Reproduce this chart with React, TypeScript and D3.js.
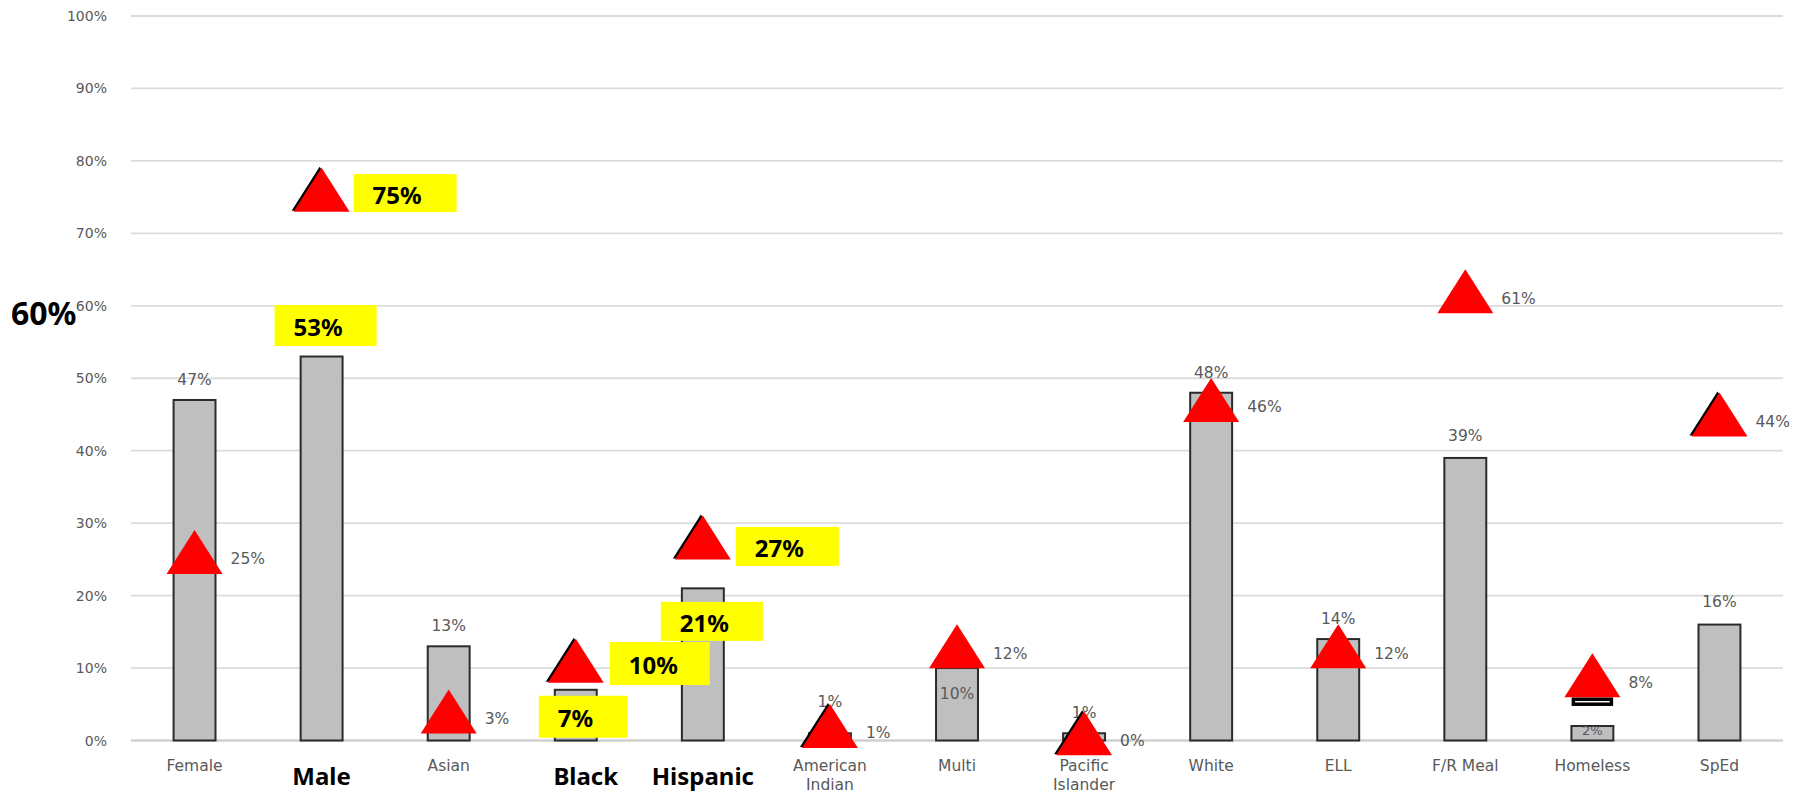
import React from "react";
import * as d3 from "d3";

// chart values
const categories = [
  "Female", "Male", "Asian", "Black", "Hispanic", "American Indian", "Multi",
  "Pacific Islander", "White", "ELL", "F/R Meal", "Homeless", "SpEd",
];
const barValues = [47, 53, 13, 7, 21, 1, 10, 1, 48, 14, 39, 2, 16];
const markerValues = [25, 75, 3, 10, 27, 1, 12, 0, 46, 12, 61, 8, 44];
const yTicks = [0, 10, 20, 30, 40, 50, 60, 70, 80, 90, 100];
const boldCategories = ["Male", "Black", "Hispanic"];
const wrappedCategories = ["American Indian", "Pacific Islander"];
const calloutText = "60%";

// placement tweaks for labels that were moved by hand in the original
const barLabelDy: Record<string, number> = {
  "American Indian": -31, Multi: 26, Homeless: 4, "F/R Meal": -22, SpEd: -23,
};
const barBoxes: Record<string, { dx: number; dy: number; w: number; h: number }> = {
  Male: { dx: -47, dy: -31, w: 102, h: 41 },
  Black: { dx: -37, dy: 27, w: 89, h: 42 },
  Hispanic: { dx: -42, dy: 33, w: 102, h: 39 },
};
const markerBoxes: Record<string, { dx: number; dy: number; w: number; h: number }> = {
  Male: { dx: 32, dy: -4, w: 103, h: 38 },
  Black: { dx: 34, dy: -4.5, w: 100, h: 43 },
  Hispanic: { dx: 33, dy: 1.5, w: 103, h: 39 },
};
const shadowed = ["Male", "Black", "Hispanic", "American Indian", "Pacific Islander", "SpEd"];

const width = 1810;
const height = 793;
const gridLeft = 131;
const gridRight = 1783;

const x = d3.scaleBand<string>()
  .domain(categories)
  .range([gridLeft, gridRight])
  .paddingInner(0.67)
  .paddingOuter(0.335);

const y = d3.scaleLinear().domain([0, 100]).range([740.5, 16]);

const triW = 56;
const triH = 44;
const triangle = `M0,${-(2 * triH) / 3} L${triW / 2},${triH / 3} L${-triW / 2},${triH / 3} Z`;

const grayText = "#595959";
const labelFont = "'DejaVu Sans', sans-serif";
const boldFont = "'Noto Sans', sans-serif";

export default function App() {
  const bw = x.bandwidth();
  const cx = (c: string) => (x(c) as number) + bw / 2;

  return (
    <svg
      width={width}
      height={height}
      style={{ position: "absolute", left: 0, top: 0, background: "#fff" }}
    >
      {/* gridlines and y ticks */}
      {yTicks.map((t) => (
        <g key={t}>
          <line
            x1={gridLeft}
            x2={gridRight}
            y1={y(t)}
            y2={y(t)}
            stroke={t === 0 ? "#d0d0d0" : "#dcdcdc"}
            strokeWidth={t === 0 ? 2.5 : 1.8}
          />
          <text
            x={107}
            y={y(t)}
            textAnchor="end"
            dominantBaseline="central"
            fontFamily={labelFont}
            fontSize={14}
            fill={grayText}
          >
            {t}%
          </text>
        </g>
      ))}

      <text
        x={11}
        y={312}
        dominantBaseline="central"
        fontFamily={boldFont}
        fontWeight="bold"
        fontSize={32}
        fill="#000"
      >
        {calloutText}
      </text>

      {/* bars */}
      {categories.map((c, i) => (
        <rect
          key={c}
          x={x(c)}
          y={y(barValues[i])}
          width={bw}
          height={y(0) - y(barValues[i])}
          fill="#bfbfbf"
          stroke="#2b2b2b"
          strokeWidth={2}
        />
      ))}

      {/* bar labels */}
      {categories.map((c, i) => {
        if (barBoxes[c]) return null;
        const dy = barLabelDy[c] ?? -20;
        return (
          <text
            key={c}
            x={cx(c)}
            y={y(barValues[i]) + dy}
            textAnchor="middle"
            dominantBaseline="central"
            fontFamily={labelFont}
            fontSize={c === "Homeless" ? 13 : 15.5}
            fill={grayText}
          >
            {barValues[i]}%
          </text>
        );
      })}

      {/* category labels */}
      {categories.map((c) => {
        if (boldCategories.includes(c)) {
          return (
            <text
              key={c}
              x={cx(c) + (c === "Black" ? 10 : 0)}
              y={775}
              textAnchor="middle"
              dominantBaseline="central"
              fontFamily={boldFont}
              fontWeight="bold"
              fontSize={24}
              fill="#000"
            >
              {c}
            </text>
          );
        }
        const words = wrappedCategories.includes(c) ? c.split(" ") : [c];
        return (
          <text
            key={c}
            x={cx(c)}
            y={766}
            textAnchor="middle"
            dominantBaseline="central"
            fontFamily={labelFont}
            fontSize={15.5}
            fill={grayText}
          >
            {words.map((w, k) => (
              <tspan key={k} x={cx(c)} dy={k === 0 ? 0 : 19}>
                {w}
              </tspan>
            ))}
          </text>
        );
      })}

      {/* markers */}
      {categories.map((c, i) => (
        <g key={c} transform={`translate(${cx(c)},${y(markerValues[i])})`}>
          {shadowed.includes(c) && (
            <path d={triangle} fill="#000" transform="translate(-2,-1)" />
          )}
          {c === "Homeless" && (
            <rect
              x={-19}
              y={triH / 3 + 2}
              width={38}
              height={5}
              fill="#fff"
              stroke="#000"
              strokeWidth={3.5}
            />
          )}
          <path d={triangle} fill="#ff0000" />
        </g>
      ))}

      {/* marker labels */}
      {categories.map((c, i) => {
        if (markerBoxes[c]) return null;
        return (
          <text
            key={c}
            x={cx(c) + 36}
            y={y(markerValues[i])}
            dominantBaseline="central"
            fontFamily={labelFont}
            fontSize={15.5}
            fill={grayText}
          >
            {markerValues[i]}%
          </text>
        );
      })}

      {/* highlighted labels */}
      {categories.map((c, i) => {
        const out = [];
        const b = barBoxes[c];
        if (b) {
          const left = cx(c) + b.dx;
          const mid = y(barValues[i]) + b.dy;
          out.push(
            <g key={c + "-bar"}>
              <rect x={left} y={mid - b.h / 2} width={b.w} height={b.h} fill="#ffff00" />
              <text
                x={left + 19}
                y={mid + 1}
                dominantBaseline="central"
                fontFamily={boldFont}
                fontWeight="bold"
                fontSize={24}
                fill="#000"
              >
                {barValues[i]}%
              </text>
            </g>
          );
        }
        const m = markerBoxes[c];
        if (m) {
          const left = cx(c) + m.dx;
          const mid = y(markerValues[i]) + m.dy;
          out.push(
            <g key={c + "-marker"}>
              <rect x={left} y={mid - m.h / 2} width={m.w} height={m.h} fill="#ffff00" />
              <text
                x={left + 19}
                y={mid + 1}
                dominantBaseline="central"
                fontFamily={boldFont}
                fontWeight="bold"
                fontSize={24}
                fill="#000"
              >
                {markerValues[i]}%
              </text>
            </g>
          );
        }
        return out;
      })}
    </svg>
  );
}
